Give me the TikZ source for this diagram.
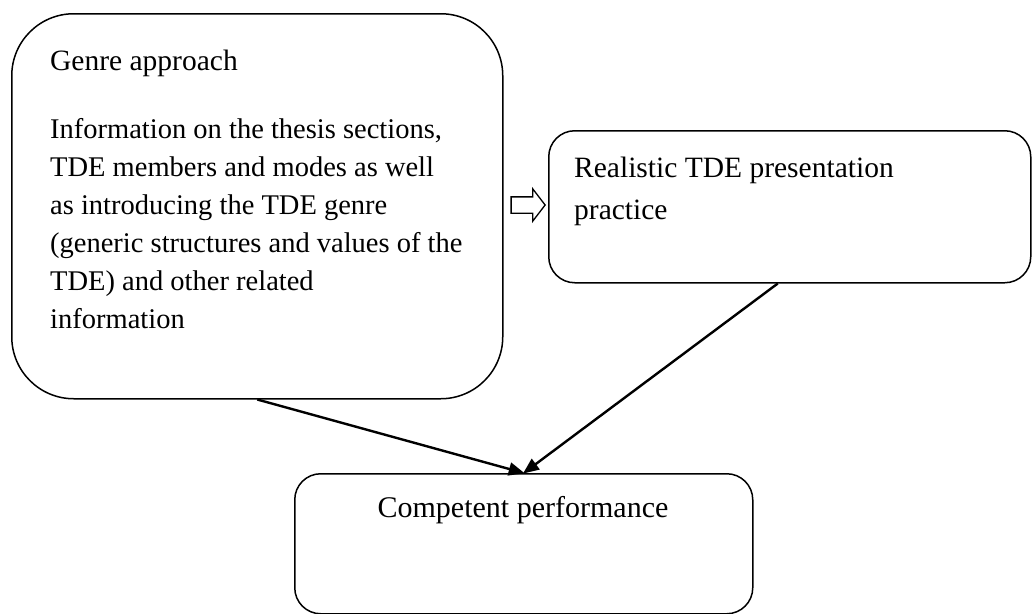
\documentclass[tikz,border=0pt]{standalone}
\usepackage{fontspec}
\setmainfont{Liberation Serif}
\usetikzlibrary{arrows.meta,shapes.arrows}
\begin{document}
\begin{tikzpicture}[x=1pt,y=-1pt,
  card/.style={draw,line width=1.5pt,inner sep=0pt,anchor=north west},
  txt/.style={inner sep=0pt,anchor=base west,align=left,
    font=\fontsize{29.5}{38}\selectfont},
  link/.style={line width=2.4pt,-{Triangle[length=16pt,width=13pt]},shorten >=-1pt}]
\useasboundingbox (0,0) rectangle (1033,613);

% boxes
\node[card,rounded corners=62pt,minimum width=491pt,minimum height=385pt] (genre) at (11,13) {};
\node[card,rounded corners=26pt,minimum width=482pt,minimum height=152pt] (real) at (548,130) {};
\node[card,rounded corners=26pt,minimum width=458pt,minimum height=140pt] (comp) at (294,473) {};

% texts (multi-line nodes are placed by the baseline of their last line)
\node[txt] (gtitle) at (50,70) {Genre approach};
\node[txt,font=\fontsize{28.5}{38}\selectfont] (gbody) at (50,328) {Information on the thesis sections,\\
TDE members and modes as well\\
as introducing the TDE genre\\
(generic structures and values of the\\
TDE) and other related\\
information};
\node[txt,font=\fontsize{29.5}{42}\selectfont] (rtext) at (574,219) {Realistic TDE presentation\\practice};
\node[txt,anchor=base,font=\fontsize{30}{38}\selectfont] (ctext) at (523,517) {Competent performance};

% hollow arrow between the upper boxes
\node[draw,line width=1.3pt,single arrow,inner xsep=0pt,inner ysep=7.5pt,
  text height=0pt,text depth=0pt,minimum height=34pt,
  single arrow head extend=8pt,single arrow tip angle=105]
  (hollow) at (525,205) {};

% connectors
\draw[link] (genre.south) -- (comp.north);
\draw[link] ([xshift=-12pt]real.south) -- (comp.north);
\end{tikzpicture}
\end{document}
